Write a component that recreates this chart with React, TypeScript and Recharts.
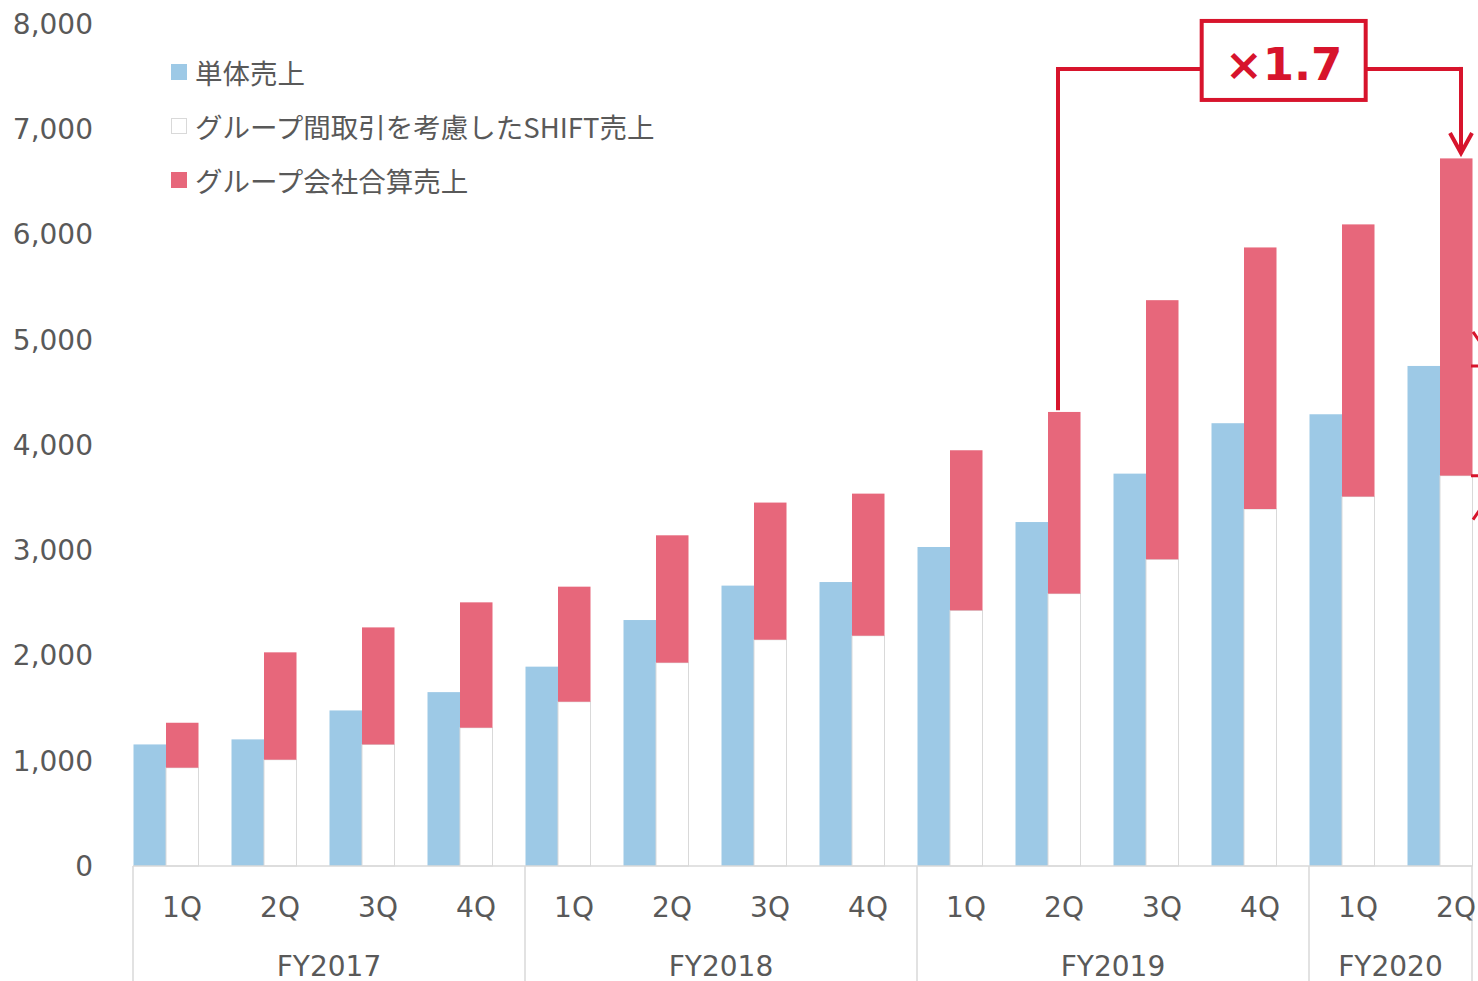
import React from 'react';
import { BarChart, Bar, XAxis, YAxis, Legend, ReferenceLine } from 'recharts';

// ---------- data ----------
const QUARTERS = ['1Q', '2Q', '3Q', '4Q', '1Q', '2Q', '3Q', '4Q', '1Q', '2Q', '3Q', '4Q', '1Q', '2Q'];
const FISCAL_YEARS = [
  'FY2017', 'FY2017', 'FY2017', 'FY2017',
  'FY2018', 'FY2018', 'FY2018', 'FY2018',
  'FY2019', 'FY2019', 'FY2019', 'FY2019',
  'FY2020', 'FY2020',
];
// 単体売上
const STANDALONE_SALES = [1155, 1203, 1478, 1652, 1894, 2337, 2664, 2698, 3031, 3268, 3728, 4207, 4292, 4751];
// グループ間取引を考慮したSHIFT売上
const SHIFT_SALES = [934, 1010, 1155, 1314, 1561, 1932, 2150, 2188, 2429, 2588, 2914, 3392, 3510, 3709];
// グループ会社合算売上 (stacked on top of SHIFT sales)
const GROUP_COMPANY_SALES = [427, 1020, 1112, 1191, 1093, 1210, 1303, 1350, 1521, 1726, 2462, 2485, 2586, 3014];

const Y_TICKS = [0, 1000, 2000, 3000, 4000, 5000, 6000, 7000, 8000];
const SERIES_NAMES = ['単体売上', 'グループ間取引を考慮したSHIFT売上', 'グループ会社合算売上'];

// annotation
const MULTIPLIER_LABEL = '×1.7';
const BRACKET_FROM_INDEX = 9;
const BRACKET_TO_INDEX = 13;
const BRACKET_START_VALUE = 4349;
const BRACKET_TOP_VALUE = 7573;
const ARROW_TIP_VALUE = 6774;

const data = QUARTERS.map((q, i) => ({
  id: `${FISCAL_YEARS[i]} ${q}`,
  q,
  fy: FISCAL_YEARS[i],
  standalone: STANDALONE_SALES[i],
  shift: SHIFT_SALES[i],
  group: GROUP_COMPANY_SALES[i],
}));

// ---------- style ----------
const BLUE = '#9dc9e6';
const RED = '#e7677b';
const ACCENT = '#d7142c';
const TEXT = '#595959';
const GRID = '#d9d9d9';
const LATIN_FONT = '"DejaVu Sans", Verdana, sans-serif';
const CJK_FONT = '"Noto Sans CJK JP", "Noto Sans", sans-serif';

const CHART_W = 1520;
const CHART_H = 1006;
const MARGIN = { top: 24, right: 15, bottom: 0, left: 13 };
const Y_AXIS_W = 120;
const X_AXIS_H = 140;
const BAR_SIZE = 32.5;
const PLOT_W = CHART_W - MARGIN.left - MARGIN.right - Y_AXIS_W;
const BAND_FALLBACK = PLOT_W / data.length;
const BAR_SHIFT = -(BAND_FALLBACK - 2 * BAR_SIZE) / 2;
const LINE_W = 4;

const shiftedShape = (stroke?: string) => (p: any) => {
  const { x, y, width, height, fill } = p;
  if (width == null || height == null || !isFinite(x) || !isFinite(y)) return <g />;
  return (
    <rect
      x={x + BAR_SHIFT}
      y={y}
      width={width}
      height={Math.max(0, height)}
      fill={fill}
      stroke={stroke ?? 'none'}
      strokeWidth={stroke ? 1 : 0}
    />
  );
};

const CategoryTick = (props: any) => {
  const { x, y, payload } = props;
  const i: number = payload?.index ?? props.index ?? 0;
  const row = data[i];
  if (!row) return <g />;
  const half = payload && typeof payload.offset === 'number' && payload.offset > 0 ? payload.offset : BAND_FALLBACK / 2;
  const band = half * 2;
  const bandStart = x - half;
  const lastIndex = data.length - 1;
  const pairWidth = 2 * BAR_SIZE;
  const bandEnd = i === lastIndex ? bandStart + pairWidth : bandStart + band;
  const isGroupStart = i === 0 || data[i - 1].fy !== row.fy;
  let groupEls = null;
  if (isGroupStart) {
    const count = data.filter((d) => d.fy === row.fy).length;
    const endsAtLast = i + count - 1 === lastIndex;
    const groupEnd = bandStart + (count - 1) * band + (endsAtLast ? pairWidth : band);
    groupEls = (
      <g>
        <line x1={bandStart} x2={bandStart} y1={y} y2={y + 140} stroke={GRID} strokeWidth={1.5} />
        {endsAtLast && <line x1={groupEnd} x2={groupEnd} y1={y} y2={y + 140} stroke={GRID} strokeWidth={1.5} />}
        <text
          x={(bandStart + groupEnd) / 2}
          y={y + 110}
          textAnchor="middle"
          fill={TEXT}
          fontSize={28}
          fontFamily={LATIN_FONT}
        >
          {row.fy}
        </text>
      </g>
    );
  }
  return (
    <g>
      <line x1={bandStart} x2={bandEnd} y1={y} y2={y} stroke={GRID} strokeWidth={1.5} />
      <text x={x} y={y + 51} textAnchor="middle" fill={TEXT} fontSize={28} fontFamily={LATIN_FONT}>
        {row.q}
      </text>
      {groupEls}
    </g>
  );
};

const LegendContent = (props: any) => {
  const items = [...(props.payload || [])].sort(
    (a: any, b: any) => SERIES_NAMES.indexOf(a.value) - SERIES_NAMES.indexOf(b.value)
  );
  return (
    <div>
      {items.map((it: any) => {
        const color = it.color || it.payload?.fill;
        const isWhite = String(color).toLowerCase() === '#ffffff';
        return (
          <div key={it.value} style={{ display: 'flex', alignItems: 'center', height: 54 }}>
            <span
              style={{
                display: 'inline-block',
                width: 16,
                height: 16,
                boxSizing: 'border-box',
                background: color,
                border: isWhite ? `1px solid ${GRID}` : 'none',
                marginRight: 8,
              }}
            />
            <span
              style={{
                fontFamily: CJK_FONT,
                fontSize: 27.5,
                color: TEXT,
                lineHeight: '54px',
                whiteSpace: 'nowrap',
              }}
            >
              {it.value}
            </span>
          </div>
        );
      })}
    </div>
  );
};

// bracket pieces
const LEFT_DX = -6;
const RIGHT_DX = 5;

const LeftLeg = (p: any) => (
  <line x1={p.x1 + LEFT_DX} y1={p.y1} x2={p.x2 + LEFT_DX} y2={p.y2} stroke={ACCENT} strokeWidth={LINE_W} strokeLinecap="square" />
);

const TopLeg = (p: any) => {
  const xl = p.x1 + LEFT_DX;
  const xr = p.x2 + RIGHT_DX;
  const cx = xl + (xr - xl) * 0.56;
  const cy = p.y1 - 8.5;
  const bw = 164;
  const bh = 79;
  return (
    <g>
      <line x1={xl} y1={p.y1} x2={xr} y2={p.y2} stroke={ACCENT} strokeWidth={LINE_W} strokeLinecap="square" />
      <rect x={cx - bw / 2} y={cy - bh / 2} width={bw} height={bh} fill="#ffffff" stroke={ACCENT} strokeWidth={LINE_W} />
      <text
        x={cx}
        y={cy + 19.5}
        textAnchor="middle"
        fill={ACCENT}
        fontSize={45}
        fontWeight="bold"
        fontFamily={LATIN_FONT}
      >
        {MULTIPLIER_LABEL}
      </text>
    </g>
  );
};

const RightLeg = (p: any) => {
  const x = p.x1 + RIGHT_DX;
  return (
    <g>
      <line x1={x} y1={p.y1} x2={x} y2={p.y2 - 2} stroke={ACCENT} strokeWidth={LINE_W} strokeLinecap="square" />
      <polyline
        points={`${x - 11},${p.y2 - 20} ${x},${p.y2} ${x + 11},${p.y2 - 20}`}
        fill="none"
        stroke={ACCENT}
        strokeWidth={LINE_W}
      />
    </g>
  );
};

const GapMarker = (p: any) => {
  const yBottom = Math.max(p.y1, p.y2);
  const yTop = Math.min(p.y1, p.y2);
  const x0 = p.x1 + 15;
  const ax = p.x1 + 26;
  return (
    <g>
      <line x1={x0} y1={yTop} x2={x0 + 50} y2={yTop} stroke={ACCENT} strokeWidth={3} />
      <line x1={x0} y1={yBottom} x2={x0 + 50} y2={yBottom} stroke={ACCENT} strokeWidth={3} />
      <polyline points={`${ax - 9},${yTop - 34} ${ax},${yTop - 21} ${ax + 9},${yTop - 34}`} fill="none" stroke={ACCENT} strokeWidth={3} />
      <polyline points={`${ax - 9},${yBottom + 44} ${ax},${yBottom + 31} ${ax + 9},${yBottom + 44}`} fill="none" stroke={ACCENT} strokeWidth={3} />
    </g>
  );
};

export default function App() {
  const fromId = data[BRACKET_FROM_INDEX].id;
  const toId = data[BRACKET_TO_INDEX].id;
  return (
    <div
      style={{
        position: 'absolute',
        left: 0,
        top: 0,
        width: 1478,
        height: 981,
        overflow: 'hidden',
        background: '#ffffff',
      }}
    >
      <BarChart
        width={CHART_W}
        height={CHART_H}
        data={data}
        margin={MARGIN}
        barGap={0}
        barSize={BAR_SIZE}
      >
        <XAxis
          dataKey="id"
          axisLine={false}
          tickLine={false}
          tickSize={0}
          tickMargin={0}
          height={X_AXIS_H}
          interval={0}
          tick={<CategoryTick />}
        />
        <YAxis
          type="number"
          domain={[0, 8000]}
          ticks={Y_TICKS}
          interval={0}
          width={Y_AXIS_W}
          axisLine={false}
          tickLine={false}
          tickSize={0}
          tickMargin={40}
          tickFormatter={(v: number) => v.toLocaleString('en-US')}
          tick={{ fill: TEXT, fontSize: 28, fontFamily: LATIN_FONT }}
        />
        <Legend
          layout="vertical"
          align="center"
          verticalAlign="middle"
          content={<LegendContent />}
          wrapperStyle={{ left: 171, top: 45, width: 'auto', height: 'auto' }}
        />
        <Bar dataKey="standalone" name={SERIES_NAMES[0]} stackId="a" fill={BLUE} isAnimationActive={false} shape={shiftedShape()} />
        <Bar dataKey="shift" name={SERIES_NAMES[1]} stackId="g" fill="#ffffff" isAnimationActive={false} shape={shiftedShape(GRID)} />
        <Bar dataKey="group" name={SERIES_NAMES[2]} stackId="g" fill={RED} isAnimationActive={false} shape={shiftedShape()} />
        <ReferenceLine
          segment={[{ x: fromId, y: BRACKET_START_VALUE }, { x: fromId, y: BRACKET_TOP_VALUE }]}
          shape={LeftLeg}
        />
        <ReferenceLine
          segment={[{ x: toId, y: BRACKET_TOP_VALUE }, { x: toId, y: ARROW_TIP_VALUE }]}
          shape={RightLeg}
        />
        <ReferenceLine
          segment={[{ x: fromId, y: BRACKET_TOP_VALUE }, { x: toId, y: BRACKET_TOP_VALUE }]}
          shape={TopLeg}
        />
        <ReferenceLine
          segment={[
            { x: toId, y: SHIFT_SALES[BRACKET_TO_INDEX] },
            { x: toId, y: STANDALONE_SALES[BRACKET_TO_INDEX] },
          ]}
          shape={GapMarker}
        />
      </BarChart>
    </div>
  );
}
